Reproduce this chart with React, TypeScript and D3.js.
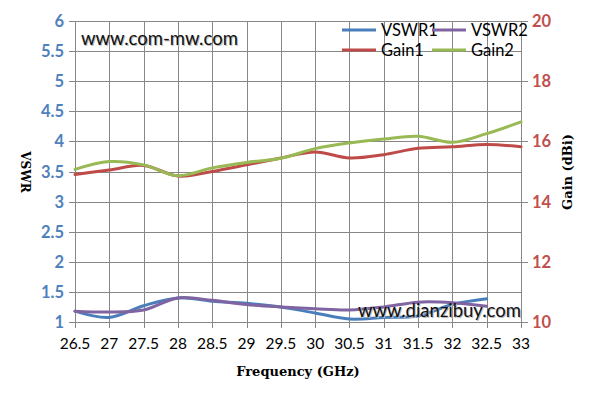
import { useEffect, useRef } from "react";
import * as d3 from "d3";

// frequency points (GHz)
const freqs = [26.5, 27, 27.5, 28, 28.5, 29, 29.5, 30, 30.5, 31, 31.5, 32, 32.5, 33];

// VSWR series (measured up to 32.5 GHz)
const vswr1 = [1.18, 1.075, 1.27, 1.4, 1.345, 1.31, 1.25, 1.15, 1.05, 1.075, 1.1, 1.29, 1.385];
const vswr2 = [1.18, 1.165, 1.2, 1.4, 1.36, 1.29, 1.25, 1.22, 1.2, 1.25, 1.33, 1.32, 1.26];

// Gain series (dBi)
const gain1 = [14.9, 15.05, 15.2, 14.85, 15.0, 15.22, 15.45, 15.65, 15.45, 15.56, 15.77, 15.82, 15.9, 15.82];
const gain2 = [15.07, 15.33, 15.22, 14.86, 15.12, 15.3, 15.44, 15.76, 15.95, 16.08, 16.17, 15.97, 16.26, 16.65];

const xTicks = [26.5, 27, 27.5, 28, 28.5, 29, 29.5, 30, 30.5, 31, 31.5, 32, 32.5, 33];
const vswrTicks = [1, 1.5, 2, 2.5, 3, 3.5, 4, 4.5, 5, 5.5, 6];
const gainTicks = [10, 12, 14, 16, 18, 20];

const legendItems = [
  { name: "VSWR1", color: "#4A7EBB" },
  { name: "VSWR2", color: "#8064A2" },
  { name: "Gain1", color: "#BE4B48" },
  { name: "Gain2", color: "#98B954" },
];

const App = () => {
  const svgRef = useRef<SVGSVGElement>(null);

  useEffect(() => {
    if (!svgRef.current) return;
    const svg = d3.select(svgRef.current);
    svg.selectAll("*").remove();

    const left = 75;
    const right = 521;
    const top = 21;
    const bottom = 322;
    const font = "Lato, 'Open Sans', sans-serif";

    const x = d3.scaleLinear().domain([26.5, 33]).range([left, right]);
    const yV = d3.scaleLinear().domain([1, 6]).range([bottom, top]);
    const yG = d3.scaleLinear().domain([10, 20]).range([bottom, top]);

    svg.append("rect").attr("width", 595).attr("height", 404).attr("fill", "#fff");

    // grid
    const grid = svg.append("g").attr("stroke", "#878787").attr("stroke-width", 1);
    grid
      .selectAll("line.v")
      .data(xTicks)
      .enter()
      .append("line")
      .attr("x1", (d) => Math.round(x(d)) + 0.5)
      .attr("x2", (d) => Math.round(x(d)) + 0.5)
      .attr("y1", top)
      .attr("y2", bottom + 6);
    grid
      .selectAll("line.h")
      .data(vswrTicks)
      .enter()
      .append("line")
      .attr("x1", left - 6)
      .attr("x2", right)
      .attr("y1", (d) => Math.round(yV(d)) + 0.5)
      .attr("y2", (d) => Math.round(yV(d)) + 0.5);
    // right axis ticks
    grid
      .selectAll("line.r")
      .data(gainTicks)
      .enter()
      .append("line")
      .attr("x1", right)
      .attr("x2", right + 7)
      .attr("y1", (d) => Math.round(yG(d)) + 0.5)
      .attr("y2", (d) => Math.round(yG(d)) + 0.5);

    // tick labels
    svg
      .append("g")
      .selectAll("text")
      .data(vswrTicks)
      .enter()
      .append("text")
      .attr("x", 64)
      .attr("y", (d) => yV(d) + 6)
      .attr("text-anchor", "end")
      .attr("font-family", font)
      .attr("font-weight", "bold")
      .attr("font-size", 16.5)
      .attr("fill", "#4F81BD")
      .text((d) => String(d));

    svg
      .append("g")
      .selectAll("text")
      .data(gainTicks)
      .enter()
      .append("text")
      .attr("x", 532)
      .attr("y", (d) => yG(d) + 6)
      .attr("font-family", font)
      .attr("font-weight", "bold")
      .attr("font-size", 16.5)
      .attr("fill", "#C0504D")
      .text((d) => String(d));

    svg
      .append("g")
      .selectAll("text")
      .data(xTicks)
      .enter()
      .append("text")
      .attr("x", (d) => x(d))
      .attr("y", 349)
      .attr("text-anchor", "middle")
      .attr("font-family", font)
      .attr("font-size", 15.5)
      .attr("fill", "#000")
      .text((d) => String(d));

    // axis titles
    const titleFont = "'DejaVu Serif', 'Liberation Serif', serif";
    svg
      .append("text")
      .attr("x", 298)
      .attr("y", 376)
      .attr("text-anchor", "middle")
      .attr("font-family", titleFont)
      .attr("font-weight", "bold")
      .attr("font-size", 13)
      .text("Frequency (GHz)");
    svg
      .append("text")
      .attr("transform", "translate(21,172) rotate(90)")
      .attr("text-anchor", "middle")
      .attr("font-family", titleFont)
      .attr("font-weight", "bold")
      .attr("font-size", 12)
      .text("VSWR");
    svg
      .append("text")
      .attr("transform", "translate(572,172) rotate(-90)")
      .attr("text-anchor", "middle")
      .attr("font-family", titleFont)
      .attr("font-weight", "bold")
      .attr("font-size", 13)
      .text("Gain (dBi)");

    // watermarks
    const mark = (tx: number, ty: number, label: string) => {
      svg
        .append("text")
        .attr("x", tx + 1)
        .attr("y", ty + 1)
        .attr("font-family", font)
        .attr("font-size", 18.5)
        .attr("fill", "#bbb")
        .text(label);
      svg
        .append("text")
        .attr("x", tx)
        .attr("y", ty)
        .attr("font-family", font)
        .attr("font-size", 18.5)
        .attr("fill", "#111")
        .text(label);
    };
    mark(81, 45, "www.com-mw.com");

    // series
    const curve = d3.curveCatmullRom.alpha(0.5);
    const vLine = d3
      .line<number>()
      .x((_, i) => x(freqs[i]))
      .y((d) => yV(d))
      .curve(curve);
    const gLine = d3
      .line<number>()
      .x((_, i) => x(freqs[i]))
      .y((d) => yG(d))
      .curve(curve);

    const series = [
      { data: gain1, line: gLine, color: legendItems[2].color },
      { data: gain2, line: gLine, color: legendItems[3].color },
      { data: vswr1, line: vLine, color: legendItems[0].color },
      { data: vswr2, line: vLine, color: legendItems[1].color },
    ];
    series.forEach((s) => {
      svg
        .append("path")
        .attr("d", s.line(s.data))
        .attr("fill", "none")
        .attr("stroke", s.color)
        .attr("stroke-width", 3)
        .attr("stroke-linecap", "round");
    });

    mark(358, 317, "www.dianzibuy.com");

    // legend
    const lg = svg.append("g");
    legendItems.forEach((item, i) => {
      const col = i % 2;
      const row = Math.floor(i / 2);
      const lx = 342 + col * 90;
      const ly = 30 + row * 20;
      lg.append("line")
        .attr("x1", lx)
        .attr("x2", lx + 34)
        .attr("y1", ly)
        .attr("y2", ly)
        .attr("stroke", item.color)
        .attr("stroke-width", 3);
      lg.append("text")
        .attr("x", lx + 39)
        .attr("y", ly + 6)
        .attr("font-family", font)
        .attr("font-size", 16.5)
        .attr("fill", "#000")
        .text(item.name);
    });
  }, []);

  return (
    <svg
      ref={svgRef}
      width={595}
      height={404}
      style={{ position: "absolute", left: 0, top: 0 }}
    />
  );
};

export default App;
